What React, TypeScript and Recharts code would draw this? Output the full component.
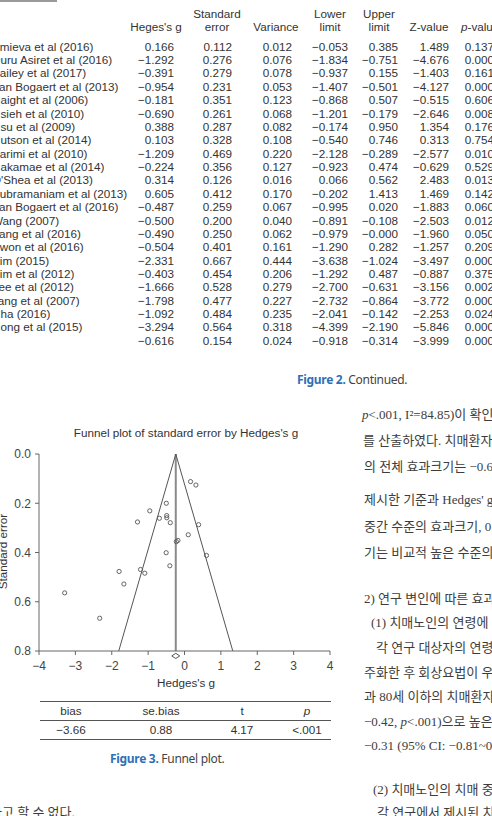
import React from 'react';
import {
  ScatterChart, Scatter, XAxis, YAxis, ReferenceLine, ReferenceDot,
} from 'recharts';

// studies in the order of the (continued) forest table
const studies = [
  'Amieva et al (2016)', 'Duru Asiret et al (2016)', 'Bailey et al (2017)', 'Van Bogaert et al (2013)',
  'Haight et al (2006)', 'Hsieh et al (2010)', 'Hsu et al (2009)', 'Hutson et al (2014)',
  'Karimi et al (2010)', 'Nakamae et al (2014)', "O'Shea et al (2013)", 'Subramaniam et al (2013)',
  'Van Bogaert et al (2016)', 'Wang (2007)', 'Yang et al (2016)', 'Kwon et al (2016)',
  'Kim (2015)', 'Kim et al (2012)', 'Lee et al (2012)', 'Jang et al (2007)', 'Cha (2016)', 'Hong et al (2015)',
];
const hedgesG = [0.166, -1.292, -0.391, -0.954, -0.181, -0.690, 0.388, 0.103, -1.209, -0.224, 0.314, 0.605,
  -0.487, -0.500, -0.490, -0.504, -2.331, -0.403, -1.666, -1.798, -1.092, -3.294];
const stdError = [0.112, 0.276, 0.279, 0.231, 0.351, 0.261, 0.287, 0.328, 0.469, 0.356, 0.126, 0.412,
  0.259, 0.200, 0.250, 0.401, 0.667, 0.454, 0.528, 0.477, 0.484, 0.564];
const variance = [0.012, 0.076, 0.078, 0.053, 0.123, 0.068, 0.082, 0.108, 0.220, 0.127, 0.016, 0.170,
  0.067, 0.040, 0.062, 0.161, 0.444, 0.206, 0.279, 0.227, 0.235, 0.318];
const lowerLimit = [-0.053, -1.834, -0.937, -1.407, -0.868, -1.201, -0.174, -0.540, -2.128, -0.923, 0.066, -0.202,
  -0.995, -0.891, -0.979, -1.290, -3.638, -1.292, -2.700, -2.732, -2.041, -4.399];
const upperLimit = [0.385, -0.751, 0.155, -0.501, 0.507, -0.179, 0.950, 0.746, -0.289, 0.474, 0.562, 1.413,
  0.020, -0.108, -0, 0.282, -1.024, 0.487, -0.631, -0.864, -0.142, -2.190];
const zValue = [1.489, -4.676, -1.403, -4.127, -0.515, -2.646, 1.354, 0.313, -2.577, -0.629, 2.483, 1.469,
  -1.883, -2.503, -1.960, -1.257, -3.497, -0.887, -3.156, -3.772, -2.253, -5.846];
const pValue = [0.137, 0.000, 0.161, 0.000, 0.606, 0.008, 0.176, 0.754, 0.010, 0.529, 0.013, 0.142,
  0.060, 0.012, 0.050, 0.209, 0.000, 0.375, 0.002, 0.000, 0.024, 0.000];
const summaryRow = [-0.616, 0.154, 0.024, -0.918, -0.314, -3.999, 0.000];

const xTicks = [-4, -3, -2, -1, 0, 1, 2, 3, 4];
const yTicks = [0, 0.2, 0.4, 0.6, 0.8];
const fixedEffect = -0.24;

const eggerHeaders = ['bias', 'se.bias', 't', 'p'];
const eggerValues = ['\u22123.66', '0.88', '4.17', '<.001'];

const textLines = [
  'p<.001, I\u00b2=84.85)이 확인',
  '를 산출하였다. 치매환자의',
  '의 전체 효과크기는 \u22120.62',
  "제시한 기준과 Hedges' g",
  '중간 수준의 효과크기, 0.5',
  '기는 비교적 높은 수준의',
  '2) 연구 변인에 따른 효과',
  '(1) 치매노인의 연령에',
  '각 연구 대상자의 연령',
  '주화한 후 회상요법이 우',
  '과 80세 이하의 치매환자',
  '\u22120.42, p<.001)으로 높은',
  '\u22120.31 (95% CI: \u22120.81~0',
  '(2) 치매노인의 치매 중',
  '각 연구에서 제시된 치',
];
const lineY = [415, 441, 467, 500, 527, 553, 599, 623, 648, 673, 697, 722, 746, 790, 813];
const lineX = [362, 363, 364, 364, 364, 364, 364, 371, 376, 364, 364, 364, 364, 373, 377];

const points = studies.map((s, i) => ({ name: s, g: hedgesG[i], se: stdError[i] }));

const fmt = (v: number) => (v < 0 || Object.is(v, -0) ? '\u2212' + Math.abs(v).toFixed(3) : v.toFixed(3));
const sans = '"Liberation Sans", Arial, sans-serif';
const ink = '#333';

// right edges of the number columns
const colRight = [174, 232, 292, 348, 398, 449, 494];
const columns = [hedgesG, stdError, variance, lowerLimit, upperLimit, zValue, pValue];

const ROW0 = 46.7;
const ROWH = 13.37;

const Cell = ({ x, y, text, align = 'right' }: any) => (
  <div style={{
    position: 'absolute', top: y - 7, height: 14, lineHeight: '14px', whiteSpace: 'nowrap',
    ...(align === 'right' ? { left: x - 80, width: 80, textAlign: 'right' } : align === 'center' ? { left: x - 60, width: 120, textAlign: 'center' } : { left: x }),
  }}>{text}</div>
);

const Header = () => (
  <>
    <Cell x={156} y={27} text="Heges's g" align="center" />
    <Cell x={217} y={14} text="Standard" align="center" />
    <Cell x={217} y={27} text="error" align="center" />
    <Cell x={276} y={27} text="Variance" align="center" />
    <Cell x={330} y={14} text="Lower" align="center" />
    <Cell x={330} y={27} text="limit" align="center" />
    <Cell x={379} y={14} text="Upper" align="center" />
    <Cell x={379} y={27} text="limit" align="center" />
    <Cell x={429} y={27} text="Z-value" align="center" />
    <Cell x={461} y={27} text={<span><i>p</i>-value</span>} align="left" />
  </>
);

const Diamond = (p: any) => (
  <path d={`M${p.cx - 4},${p.cy} L${p.cx},${p.cy - 2.6} L${p.cx + 4},${p.cy} L${p.cx},${p.cy + 2.6} Z`}
    fill="#fff" stroke="#555" strokeWidth={1} />
);

const Dot = (p: any) => (
  <circle cx={p.cx} cy={p.cy} r={2.1} fill="none" stroke="#555" strokeWidth={0.9} />
);

const FunnelPlot = () => (
  <ScatterChart width={340} height={300} margin={{ top: 54, right: 10, left: 0, bottom: 19 }}>
    <XAxis type="number" dataKey="g" domain={[-4, 4]} ticks={xTicks} interval={0}
      tickFormatter={(v: number) => (v < 0 ? '\u2212' + Math.abs(v) : String(v))}
      height={30} tickSize={4} tickMargin={6}
      stroke="#666" tick={{ fill: '#444', fontSize: 12, fontFamily: sans }} />
    <YAxis type="number" dataKey="se" domain={[0, 0.8]} ticks={yTicks} reversed interval={0}
      tickFormatter={(v: number) => v.toFixed(1)} width={39} tickSize={4} tickMargin={4}
      stroke="#666" tick={{ fill: '#444', fontSize: 12, fontFamily: sans }} />
    <ReferenceLine x={fixedEffect} stroke="#8a8a8a" strokeWidth={2} />
    <ReferenceLine segment={[{ x: fixedEffect, y: 0 }, { x: fixedEffect - 1.96 * 0.8, y: 0.8 }]} stroke="#555" strokeWidth={1} />
    <ReferenceLine segment={[{ x: fixedEffect, y: 0 }, { x: fixedEffect + 1.96 * 0.8, y: 0.8 }]} stroke="#555" strokeWidth={1} />
    <Scatter data={points} shape={Dot} isAnimationActive={false} />
    <ReferenceDot x={fixedEffect} y={0.82} ifOverflow="visible" shape={Diamond} />
  </ScatterChart>
);

export default function App() {
  return (
    <div style={{ position: 'absolute', left: 0, top: 0, width: 492, height: 816, overflow: 'hidden', background: '#fff', fontFamily: sans }}>
      {/* table continued from previous page */}
      <div style={{ position: 'absolute', left: 0, top: 0, width: 57, height: 2, background: '#9a9a9a' }} />
      <div style={{ position: 'absolute', left: 0, top: 0, width: 492, height: 360, fontSize: 11.7, color: ink }}>
        <Header />
        {studies.map((s, i) => (
          <React.Fragment key={s}>
            <Cell x={-8} y={ROW0 + i * ROWH} text={s} align="left" />
            {columns.map((col, c) => (
              <Cell key={c} x={colRight[c]} y={ROW0 + i * ROWH} text={fmt(col[i])} />
            ))}
          </React.Fragment>
        ))}
        {summaryRow.map((v, c) => (
          <Cell key={'s' + c} x={colRight[c]} y={ROW0 + studies.length * ROWH} text={fmt(v)} />
        ))}
      </div>

      <div style={{ position: 'absolute', left: 297, top: 371, fontFamily: '"Noto Sans", sans-serif', fontSize: 12, whiteSpace: 'nowrap', letterSpacing: -0.3 }}>
        <span style={{ color: '#2f6fb8', fontWeight: 700 }}>Figure 2.</span>
        <span style={{ color: '#444' }}> Continued.</span>
      </div>

      {/* funnel plot */}
      <div style={{ position: 'absolute', left: 0, top: 426, width: 372, textAlign: 'center', fontSize: 11.7, color: '#333' }}>
        Funnel plot of standard error by Hedges's g
      </div>
      <div style={{ position: 'absolute', left: 0, top: 400 }}>
        <FunnelPlot />
      </div>
      <div style={{ position: 'absolute', left: 86, top: 676, width: 200, textAlign: 'center', fontSize: 11.7, color: '#333' }}>
        Hedges's g
      </div>
      <div style={{ position: 'absolute', left: 2 - 50, top: 552 - 7, width: 100, textAlign: 'center', fontSize: 11.7, color: '#333', transform: 'rotate(-90deg)' }}>
        Standard error
      </div>

      {/* Egger's regression test */}
      <div style={{ position: 'absolute', left: 40, top: 700.5, width: 291, height: 1.2, background: '#555' }} />
      <div style={{ position: 'absolute', left: 40, top: 720.2, width: 291, height: 1, background: '#555' }} />
      <div style={{ position: 'absolute', left: 40, top: 739.2, width: 291, height: 1.2, background: '#555' }} />
      <div style={{ position: 'absolute', left: 0, top: 0, fontSize: 11.7, color: ink }}>
        {eggerHeaders.map((h, i) => (
          <Cell key={h} x={[71, 161, 242, 307][i]} y={710.5} align="center" text={h === 'p' ? <i>p</i> : h} />
        ))}
        {eggerValues.map((v, i) => (
          <Cell key={i} x={[71, 161, 242, 307][i]} y={730} align="center" text={v} />
        ))}
      </div>
      <div style={{ position: 'absolute', left: 110, top: 750, fontFamily: '"Noto Sans", sans-serif', fontSize: 12, whiteSpace: 'nowrap', letterSpacing: -0.3 }}>
        <span style={{ color: '#2f6fb8', fontWeight: 700 }}>Figure 3.</span>
        <span style={{ color: '#444' }}> Funnel plot.</span>
      </div>

      {/* body text */}
      <div style={{ position: 'absolute', left: 0, top: 0, fontFamily: '"Liberation Serif", "Noto Sans CJK KR", serif', fontSize: 13, color: '#3d3d3d' }}>
        {textLines.map((t, i) => {
          const parts = t.split('p<');
          return (
            <div key={i} style={{ position: 'absolute', left: lineX[i], top: lineY[i] - 9, whiteSpace: 'nowrap', lineHeight: '18px' }}>
              {parts.length > 1 ? <>{parts[0]}<i>p</i>{'<' + parts[1]}</> : t}
            </div>
          );
        })}
        <div style={{ position: 'absolute', left: -10, top: 813 - 9, whiteSpace: 'nowrap', lineHeight: '18px' }}>
          다고 할 수 없다.
        </div>
      </div>
    </div>
  );
}
